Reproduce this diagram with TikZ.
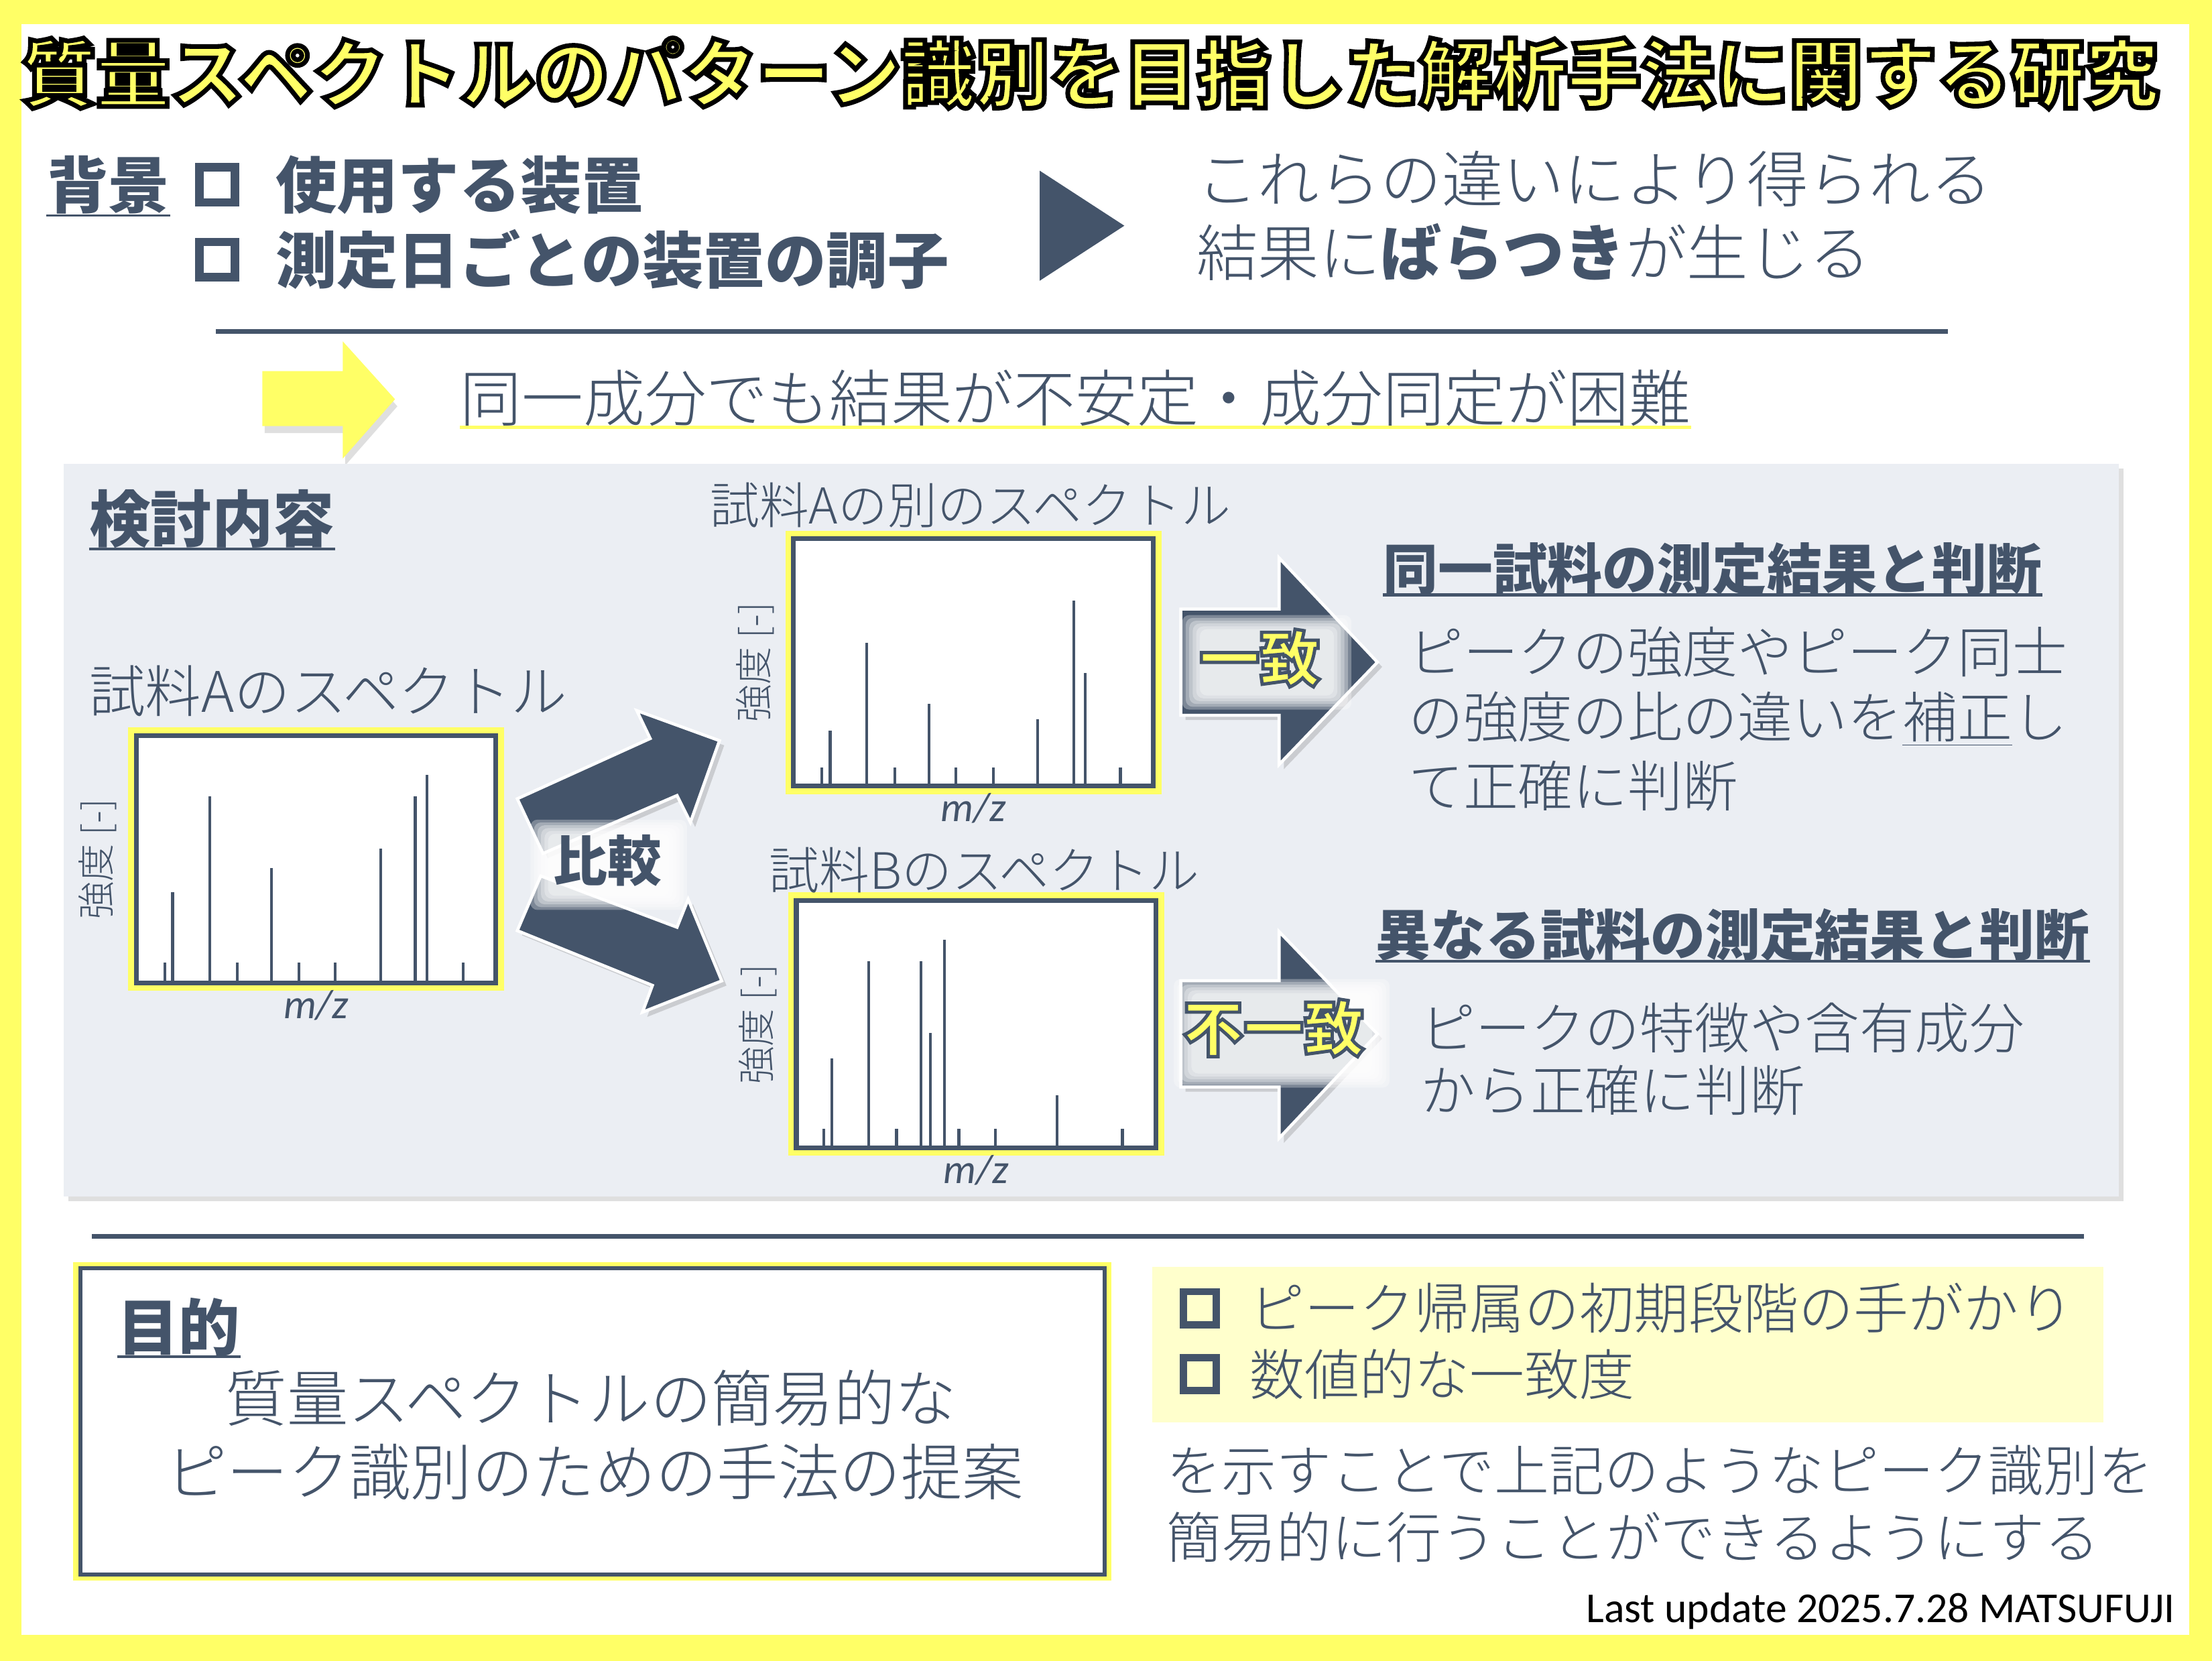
\documentclass[tikz,border=0pt]{standalone}
\usepackage{fontspec}
\setmainfont{Noto Sans CJK JP}
\newfontfamily\jplight{Noto Sans CJK JP Light}
\newfontfamily\calib{Carlito}
\usepackage{tikz}
\usetikzlibrary{
  positioning,
  shadows
}
\definecolor{slate}{HTML}{44546A}
\definecolor{hiyellow}{HTML}{FFFF66}
\definecolor{paleyellow}{HTML}{FFFFCC}
\definecolor{panelgray}{HTML}{EBEEF3}
% stroked text: #1 stroke colour (rgb), #2 stroke width, #3 text
\newcommand\strokedtext[3]{{\special{pdf:literal direct #1 RG 2 Tr #2 w}#3\special{pdf:literal direct 0 Tr}}}
\tikzset{
  every node/.style={inner sep=0pt, text=slate},
  title/.style={font=\fontsize{31.4}{34}\selectfont\bfseries, text=hiyellow},
  heading/.style={anchor=west, font=\fontsize{26}{30}\selectfont\bfseries},
  subheading/.style={anchor=west, font=\fontsize{23.3}{28}\selectfont\bfseries},
  plain/.style={anchor=west, font=\jplight\fontsize{26}{30}\selectfont},
  note/.style={anchor=west, font=\jplight\fontsize{23.3}{28}\selectfont},
  specname/.style={anchor=west, font=\jplight\fontsize{21.3}{25}\selectfont},
  axisx/.style={font=\calib\itshape\fontsize{17.5}{20}\selectfont},
  axisy/.style={rotate=90, font=\jplight\fontsize{16}{19}\selectfont},
  verdict/.style={font=\fontsize{25.7}{30}\selectfont\bfseries, text=hiyellow},
  bigbox/.style={draw=slate, line width=3.6pt, minimum size=15pt},
  smallbox/.style={draw=slate, line width=3pt, minimum size=14pt},
  specframe/.style={draw=slate, line width=2pt, fill=white,
    minimum width=152.7pt, minimum height=105pt,
    preaction={draw=hiyellow, line width=6.8pt}},
  peak/.style={slate, line width=1.2pt},
  rule/.style={slate, line width=1.8pt},
  ul/.style={slate, line width=1pt},
  blockarrow/.style={fill=slate, draw=white, line width=1.3pt,
    drop shadow={shadow xshift=2pt, shadow yshift=-2pt, opacity=0.3}},
  glow/.style={fill=white, opacity=0.3, rounded corners=3pt}
}

\begin{document}
\begin{tikzpicture}[x=0.0210459cm, y=-0.0210459cm]
  \useasboundingbox (0,0) rectangle (1568,1177.4);
  \fill[hiyellow] (0,0) rectangle (1568,1177.4);
  \fill[white] (15,17) rectangle (1552,1159);

  % title
  \node[title] (title) at (773,52) {\strokedtext{0 0 0}{2}{質量スペクトルのパターン識別を目指した解析手法に関する研究}};

  % background
  \node[heading] (bg) at (33,131) {背景};
  \draw[ul] ([yshift=-3.2pt]bg.base west) -- ([yshift=-3.2pt]bg.base east);
  \node[bigbox] (box1) at (154,131) {};
  \node[bigbox] (box2) at (154,184) {};
  \node[heading] (device) at (195,131) {使用する装置};
  \node[heading] (daily) at (195,184) {測定日ごとの装置の調子};
  \fill[slate] (737,121) -- (797,160) -- (737,199) -- cycle;
  \node[plain] (diff1) at (848,127) {これらの違いにより得られる};
  \node[plain] (diff2) at (848,179) {結果に{\normalfont\bfseries ばらつき}が生じる};
  \draw[rule] (153,235) -- (1381,235);

  \fill[hiyellow, drop shadow={shadow xshift=1pt, shadow yshift=-3pt, opacity=0.25}]
    (186,263) -- (243,263) -- (243,242) -- (280,283) -- (243,325) -- (243,302) -- (186,302) -- cycle;
  \node[plain, font=\jplight\fontsize{26.1}{30}\selectfont] (issue) at (326,282) {同一成分でも結果が不安定・成分同定が困難};
  \draw[hiyellow, line width=1.5pt] ([yshift=-2.6pt]issue.base west) -- ([yshift=-2.6pt]issue.base east);

  % study panel
  \fill[panelgray, drop shadow={shadow xshift=2pt, shadow yshift=-2pt, opacity=0.25}] (45,329) rectangle (1502,848);
  \node[heading] (study) at (63,368) {検討内容};
  \draw[ul] ([yshift=-2.8pt]study.base west) -- ([yshift=-2.8pt]study.base east);

  % spectra
  \node[specframe] (specA) at (224,609) {};
  \node[specframe] (specA2) at (690,469.5) {};
  \node[specframe] (specB) at (692,726) {};

  \begin{scope}[shift={(specA.south west)}]
    \foreach \px/\ph in {21.9/16, 27.5/66, 53.8/134, 73.4/16, 97.6/83, 117.2/16, 142.9/16, 174.9/97, 199.6/134, 207.8/149, 233.6/16}
      \draw[peak] (\px,0) -- (\px,-\ph);
  \end{scope}
  \begin{scope}[shift={(specA2.south west)}]
    \foreach \px/\ph in {21.6/15, 27.7/41, 53.5/103, 73.6/15, 97.8/60, 116.9/15, 143.2/15, 174.6/49, 200.3/133, 208.6/82, 233.4/15}
      \draw[peak] (\px,0) -- (\px,-\ph);
  \end{scope}
  \begin{scope}[shift={(specB.south west)}]
    \foreach \px/\ph in {21.1/15, 26.8/65, 53.1/134, 72.7/15, 90.1/134, 96.8/83, 106.6/149, 116.9/15, 142.6/15, 186.5/39, 232.8/15}
      \draw[peak] (\px,0) -- (\px,-\ph);
  \end{scope}

  \node[specname, font=\jplight\fontsize{23.8}{27}\selectfont] (nameA) at (63,490) {試料Aのスペクトル};
  \node[specname, font=\jplight\fontsize{21}{25}\selectfont] (nameA2) at (503,358) {試料Aの別のスペクトル};
  \node[specname] (nameB) at (545,617) {試料Bのスペクトル};

  \node[axisx, below=2pt of specA] (mzA) {m/z};
  \node[axisx, below=2pt of specA2] (mzA2) {m/z};
  \node[axisx, below=2pt of specB] (mzB) {m/z};
  \node[axisy, left=7pt of specA, anchor=south] (intA) {強度 [-]};
  \node[axisy, left=7pt of specA2, anchor=south] (intA2) {強度 [-]};
  \node[axisy, left=7pt of specB, anchor=south] (intB) {強度 [-]};

  % comparison arrows
  \draw[blockarrow] (366.7,566.2) -- (460.9,523.5) -- (451.4,503.7) -- (510,525) -- (489.4,582.9) -- (479.9,563.9) -- (384.9,605) -- cycle;
  \draw[blockarrow] (383.3,620.9) -- (479.9,657.3) -- (487.8,637.5) -- (511.6,695.3) -- (455.4,717.5) -- (462.5,698.5) -- (366.7,659.7) -- cycle;
  \foreach \k in {0,...,5}
    \fill[glow] (376+2.5*\k,581+2*\k) rectangle (487-2.5*\k,645-2*\k);
  \node[font=\fontsize{23}{26}\selectfont\bfseries] (compare) at (430.5,610) {比較};

  % result arrows
  \draw[blockarrow] (837,431.7) -- (906.7,431.7) -- (906.7,395.5) -- (976.4,469.4) -- (906.7,541.9) -- (906.7,507) -- (837,507) -- cycle;
  \draw[blockarrow] (837,695.2) -- (906.7,695.2) -- (906.7,660.4) -- (976.4,732.9) -- (906.7,806.8) -- (906.7,770.5) -- (837,770.5) -- cycle;
  \foreach \k in {0,...,5}
    \fill[glow] (838+2.5*\k,436+2*\k) rectangle (958-2.5*\k,503-2*\k);
  \foreach \k in {0,...,5}
    \fill[glow] (832+2.5*\k,694+2*\k) rectangle (985-2.5*\k,771-2*\k);
  \node[verdict] (match) at (893,466.5) {\strokedtext{0.267 0.329 0.416}{1.4}{一致}};
  \node[verdict] (mismatch) at (902.8,728.7) {\strokedtext{0.267 0.329 0.416}{1.4}{不一致}};

  % judgements
  \node[subheading] (same) at (980,403) {同一試料の測定結果と判断};
  \draw[ul, line width=1.2pt] ([yshift=-2.4pt]same.base west) -- ([yshift=-2.4pt]same.base east);
  \node[note] (same1) at (998,462.3) {ピークの強度やピーク同士};
  \node[note] (same2) at (998,509.8) {の強度の比の違いを\underline{補正}し};
  \node[note] (same3) at (998,557.3) {て正確に判断};
  \node[subheading] (other) at (975,662.5) {異なる試料の測定結果と判断};
  \draw[ul, line width=1.2pt] ([yshift=-2.4pt]other.base west) -- ([yshift=-2.4pt]other.base east);
  \node[note] (other1) at (1006.6,728.7) {ピークの特徴や含有成分};
  \node[note] (other2) at (1006.6,772.8) {から正確に判断};

  \draw[rule] (65,876.4) -- (1477,876.4);

  % purpose
  \fill[hiyellow] (52,894.7) rectangle (788,1120.3);
  \draw[slate, fill=white, line width=1.8pt] (57,899) rectangle (783,1116);
  \node[heading] (aim) at (83,940.5) {目的};
  \draw[ul] ([yshift=-2.8pt]aim.base west) -- ([yshift=-2.8pt]aim.base east);
  \node[plain, anchor=center] (aim1) at (419,990.9) {質量スペクトルの簡易的な};
  \node[plain, anchor=center] (aim2) at (421.5,1043.3) {ピーク識別のための手法の提案};

  \fill[paleyellow] (817,897.8) rectangle (1491,1008.3);
  \node[smallbox] (box3) at (850.5,927.3) {};
  \node[smallbox] (box4) at (850.5,974.1) {};
  \node[note] (clue) at (885.6,927.3) {ピーク帰属の初期段階の手がかり};
  \node[note] (degree) at (885.6,974.1) {数値的な一致度};
  \node[note] (goal1) at (826.8,1042.2) {を示すことで上記のようなピーク識別を};
  \node[note] (goal2) at (826.8,1089.5) {簡易的に行うことができるようにする};

  \node[anchor=east, text=black, font=\calib\fontsize{18.1}{21}\selectfont] (update) at (1542,1141.8) {Last update 2025.7.28 MATSUFUJI};
\end{tikzpicture}
\end{document}
